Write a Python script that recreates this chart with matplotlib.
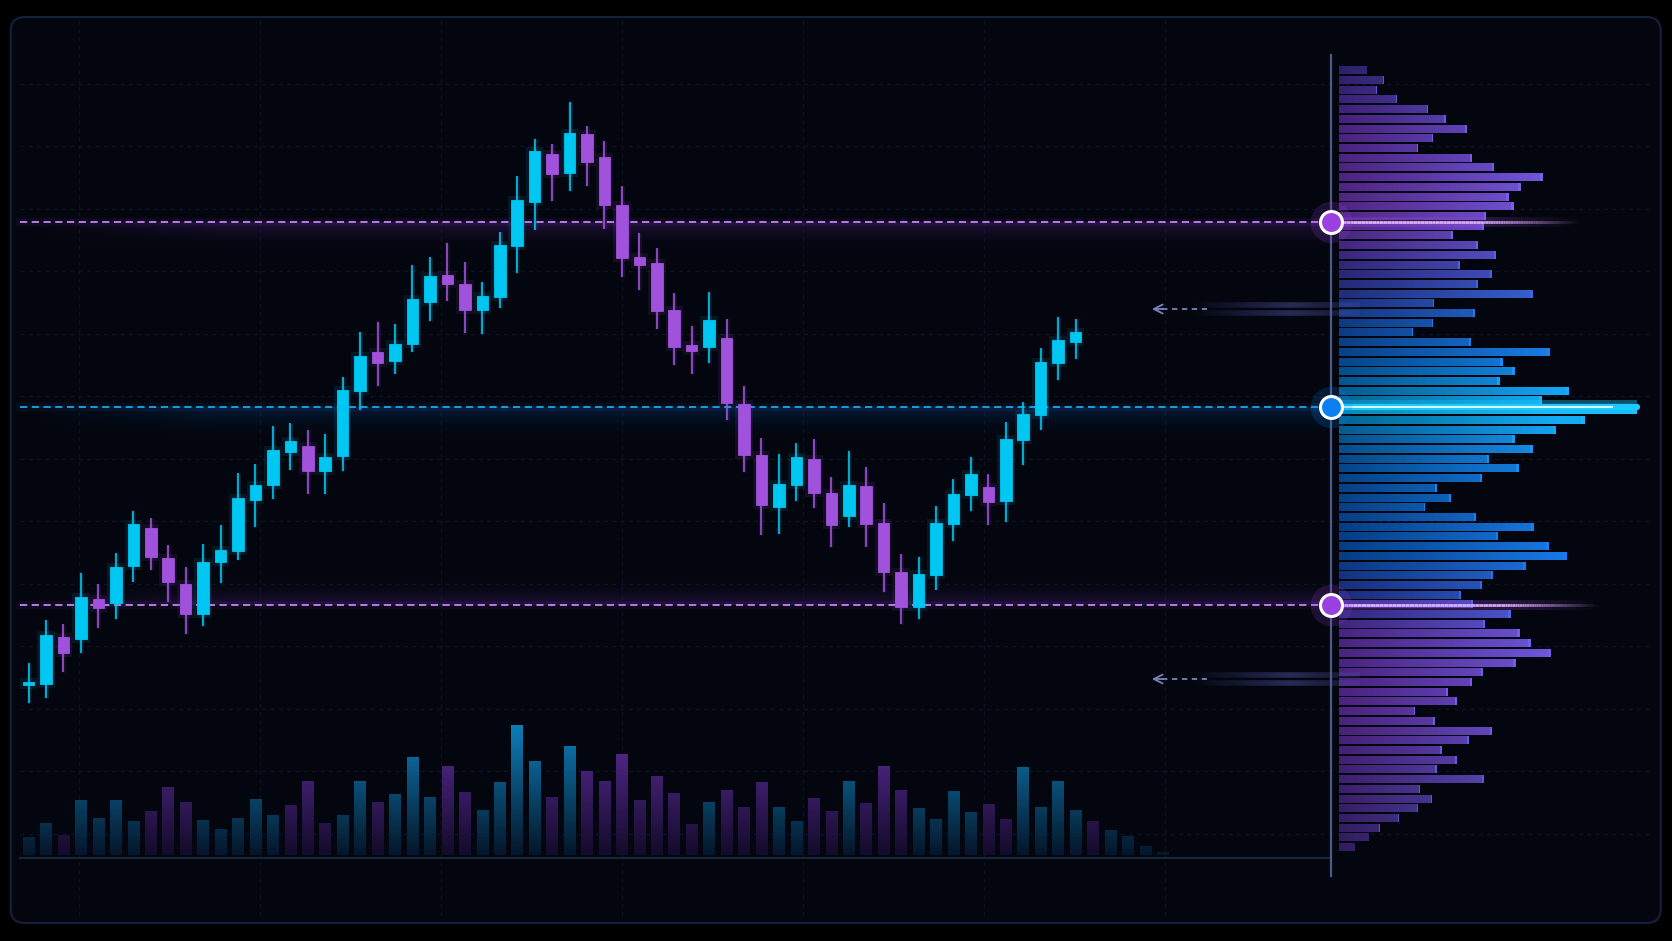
import numpy as np
import matplotlib
matplotlib.use("Agg")
import matplotlib.pyplot as plt
from matplotlib.patches import Rectangle, FancyBboxPatch
from matplotlib.collections import LineCollection
from matplotlib.colors import LinearSegmentedColormap, to_rgb
from matplotlib.transforms import blended_transform_factory

# ---- candles (price) ----
opens = [101.5, 101.6, 106.3, 106.1, 110.1, 109.7, 113.4, 117.2, 114.2, 111.6,
         108.6, 113.8, 114.9, 120.0, 121.5, 124.8, 125.4, 122.9, 124.4, 130.9,
         134.8, 133.9, 135.6, 139.8, 142.5, 141.6, 139.0, 140.3, 145.4, 149.8,
         154.6, 152.7, 156.6, 154.3, 149.5, 144.3, 143.7, 139.0, 135.5, 135.3,
         136.2, 129.6, 124.5, 119.3, 121.5, 124.1, 120.7, 118.4, 121.4, 117.7,
         112.8, 109.3, 112.5, 117.6, 120.5, 121.3, 119.9, 126.0, 128.5, 133.7, 135.8]
highs = [103.7, 108.0, 107.6, 112.7, 111.6, 114.7, 118.9, 118.2, 115.5, 113.3,
         115.6, 117.5, 122.7, 123.6, 127.4, 127.7, 127.0, 126.6, 132.3, 136.8,
         137.8, 137.6, 143.5, 144.3, 145.7, 143.8, 141.8, 146.8, 152.4, 156.1,
         155.6, 159.8, 157.4, 155.9, 151.4, 146.7, 145.2, 140.7, 137.4, 140.8,
         138.1, 131.4, 126.2, 124.6, 125.7, 126.1, 122.3, 124.9, 123.3, 119.7,
         114.6, 114.3, 119.4, 122.1, 124.3, 122.6, 127.8, 129.8, 135.2, 138.3, 138.1]
lows = [99.7, 100.2, 102.8, 104.7, 107.2, 108.1, 111.8, 113.0, 109.8, 106.6,
        107.4, 111.7, 114.0, 117.3, 120.1, 123.0, 120.6, 120.6, 122.9, 129.0,
        131.4, 132.6, 134.8, 137.9, 139.9, 136.7, 136.6, 139.2, 142.7, 147.0,
        149.9, 150.9, 151.4, 147.1, 142.3, 141.0, 137.1, 133.5, 132.6, 133.7,
        128.0, 122.8, 116.5, 116.6, 119.9, 119.2, 115.3, 117.3, 115.3, 110.8,
        107.6, 108.1, 111.0, 115.9, 118.9, 117.5, 117.8, 123.5, 127.0, 132.0, 134.1]
closes = [101.8, 106.5, 104.7, 110.3, 109.2, 113.3, 117.6, 114.3, 111.8, 108.6,
          113.8, 115.0, 120.2, 121.5, 125.0, 125.9, 122.9, 124.3, 131.0, 134.4,
          133.7, 135.6, 140.1, 142.4, 141.6, 139.0, 140.4, 145.5, 150.0, 154.9,
          152.6, 156.7, 153.8, 149.5, 144.2, 143.5, 138.9, 135.3, 134.9, 138.0,
          129.7, 124.5, 119.5, 121.6, 124.3, 120.7, 117.5, 121.5, 117.6, 112.8,
          109.3, 112.6, 117.7, 120.6, 122.6, 119.8, 126.1, 128.6, 133.8, 136.0, 136.8]

# ---- volume bars ----
volumes = [180, 320, 200, 550, 370, 550, 340, 440, 680, 530,
           350, 260, 370, 560, 400, 500, 740, 320, 400, 740,
           530, 610, 980, 580, 890, 630, 450, 730, 1300, 940,
           580, 1090, 840, 740, 1010, 550, 790, 620, 310, 530,
           650, 480, 730, 480, 340, 570, 440, 740, 520, 890,
           650, 470, 360, 640, 430, 510, 360, 880, 480, 740,
           450, 340, 250, 190, 90, 30]
vol_side = ("bbpbbbbppp" "bbbbbpppbb" "pbbbppbbbb" "pbpppppppb"
            "pppbbppbpp" "pbbbbppbbb" "bpbbbb")

# ---- volume profile ----
profile_vol = [280, 450, 380, 580, 890, 1070, 1280, 940, 790, 1330,
               1550, 2040, 1820, 1700, 1750, 1470, 1450, 1140, 1390, 1570,
               1210, 1530, 1390, 1940, 950, 1360, 940, 740, 1320, 2110,
               1640, 1760, 1610, 2300, 2030, 2980, 2460, 2170, 1760, 1940,
               1500, 1800, 1430, 980, 1120, 860, 1370, 1950, 1590, 2100,
               2280, 1870, 1540, 1430, 1220, 1340, 1720, 1460, 1810, 1920,
               2120, 1770, 1440, 1330, 1090, 1180, 760, 960, 1530, 1300,
               1030, 1180, 980, 1450, 810, 930, 790, 600, 410, 300, 160]
profile_top = 162.93
profile_step = 0.971

vah, poc, val = 147.8, 129.3, 109.5
lvn_levels = [139.1, 102.1]

# ---- layout (pixels) ----
W, H = 1672, 941
X0, DX = 28.6, 17.45          # first candle px, candle spacing px
LINE_X = 1331                 # profile separator
PROF_X0 = 1339

UP = '#00c6f2'
DN = '#a052dc'


def px2i(x):
    return (x - X0) / DX


fig = plt.figure(figsize=(W / 100, H / 100), dpi=100)
fig.patch.set_facecolor('#000000')

bg = fig.add_axes([0, 0, 1, 1])
axv = fig.add_axes([0, 0, 1, 1])
ax = fig.add_axes([0, 0, 1, 1])
axp = fig.add_axes([0, 0, 1, 1])
for a in (bg, axv, ax, axp):
    a.set_axis_off()
    a.patch.set_alpha(0)

# background panel and grid
bg.add_patch(FancyBboxPatch((10.7, 17), 1650, 906,
                            boxstyle='round,pad=0,rounding_size=14',
                            fc='#03060e', ec='#15213a', lw=1.5, zorder=0))
for gy in np.arange(83.5, 840, 62.5):
    bg.plot([20, 1650], [gy, gy], color='#0b1324', lw=1, dashes=(3, 3), zorder=1)
for gx in np.arange(79, 1200, 181):
    bg.plot([gx, gx], [20, 920], color='#0a1222', lw=1, dashes=(3, 3), zorder=1)
bg.plot([LINE_X, LINE_X], [55, 876], color='#4f5a86', lw=1.6, zorder=3)
bg.plot([20, LINE_X], [858, 858], color='#17263a', lw=1.5, zorder=2)
bg.set_xlim(0, W)
bg.set_ylim(H, 0)

# volume bars with vertical gradient
vcol = {'b': (to_rgb('#0e7cb6'), to_rgb('#05162a')),
        'p': (to_rgb('#5e2c9c'), to_rgb('#130b2a'))}
for i, (v, s) in enumerate(zip(volumes, vol_side)):
    top, bot = vcol[s]
    t = np.linspace(0, v / 1300, 48)[:, None]
    arr = np.array(bot)[None, :] + (np.array(top) - np.array(bot))[None, :] * t
    axv.imshow(arr[:, None, :], extent=(i - 0.33, i + 0.33, 0, v), origin='lower',
               aspect='auto', interpolation='nearest', zorder=2)
axv.set_xlim(-X0 / DX, (W - X0) / DX)
axv.set_ylim(-860, 8550)


# haze bands under / over the level lines
def haze(level, depth, color, amax):
    ny, nx = 40, 200
    rgb = np.array(to_rgb(color))
    d = np.linspace(0, 1, ny)[:, None]
    xf = np.linspace(0, 1, nx)[None, :]
    xfade = np.clip(xf / 0.15, 0, 1)
    if depth < 0:   # band below the line
        a = amax * d ** 2 * xfade
        ext = (px2i(20), px2i(LINE_X), level + depth, level)
    else:
        a = amax * (1 - d) ** 2 * xfade
        ext = (px2i(20), px2i(LINE_X), level, level + depth)
    img = np.zeros((ny, nx, 4))
    img[..., :3] = rgb
    img[..., 3] = a
    ax.imshow(img, extent=ext, origin='lower', aspect='auto', zorder=0.5)


haze(vah, -3.2, '#7a30c0', 0.24)
haze(poc, -3.6, '#0a5ec0', 0.24)
haze(val, 3.0, '#7a30c0', 0.22)

lvl_tr = blended_transform_factory(bg.transData, ax.transData)

# dashed level lines (left part)
for lvl, col, glow in [(vah, '#c583f2', '#8a3ad0'), (poc, '#1ea6ec', '#0a70d0'), (val, '#c583f2', '#8a3ad0')]:
    ax.plot([20, LINE_X], [lvl, lvl], color=glow, lw=6, alpha=0.08, transform=lvl_tr, zorder=1)
    ax.plot([20, LINE_X], [lvl, lvl], color=col, lw=1.3, dashes=(4, 2.5), transform=lvl_tr, zorder=1.2)

# candles
for i, (o, h, l, c) in enumerate(zip(opens, highs, lows, closes)):
    col = UP if c >= o else DN
    lo, hi = min(o, c), max(o, c)
    ax.add_patch(Rectangle((i - 0.5, lo - 0.4), 1.0, hi - lo + 0.8, fc=col, ec='none', alpha=0.10, zorder=2))
    ax.vlines(i, l, h, color=col, lw=3.5, alpha=0.12, zorder=2)
    ax.vlines(i, l, h, color=col, lw=1.2, zorder=3)
    ax.add_patch(Rectangle((i - 0.33, lo), 0.66, max(hi - lo, 0.35), fc=col, ec=col, lw=0.6, zorder=4))
ax.set_xlim(-X0 / DX, (W - X0) / DX)
ax.set_ylim(75.9, 170)

# volume profile
cmap = LinearSegmentedColormap.from_list('prof', [
    (0.0, '#4a36b0'), (6 / 80, '#7a3ad2'), (16 / 80, '#8a3edc'), (21 / 80, '#4640c4'),
    (26 / 80, '#1860d8'), (30 / 80, '#0a72e4'), (35 / 80, '#05b8f6'), (38 / 80, '#0a88ea'),
    (42 / 80, '#0a6ee0'), (50 / 80, '#0b64dc'), (54 / 80, '#2e48cc'), (58 / 80, '#7a3cd6'),
    (66 / 80, '#7e3ad0'), (1.0, '#50309c')])
n_prof = len(profile_vol)
prof_prices = profile_top - profile_step * np.arange(n_prof)
for k, (p, v) in enumerate(zip(prof_prices, profile_vol)):
    c = np.array(to_rgb(cmap(k / (n_prof - 1))))
    t = np.clip(np.linspace(0, v, 64) / 2200, 0, 1)[:, None]
    left = c * 0.6
    right = c + (np.array([0.25, 0.75, 1.0]) - c) * 0.22 * (c[2] > c[0])
    arr = left[None, :] + (right - left)[None, :] * t
    arr[-1] = np.clip(right * 1.05, 0, 1)
    axp.imshow(np.clip(arr, 0, 1)[None, :, :], extent=(0, v, p - 0.36, p + 0.36),
               aspect='auto', interpolation='nearest', zorder=2)
axp.set_xlim(-PROF_X0 * 10, (W - PROF_X0) * 10)
axp.set_ylim(75.9, 170)


def fade_line(x0, x1, y, color, lw, a0, a1, n=40, zorder=5):
    xs = np.linspace(x0, x1, n + 1)
    segs = [[(xs[k], y), (xs[k + 1], y)] for k in range(n)]
    rgba = [(*to_rgb(color), a) for a in np.linspace(a0, a1, n)]
    lc = LineCollection(segs, colors=rgba, linewidths=lw, transform=lvl_tr,
                        zorder=zorder, capstyle='butt')
    axp.add_collection(lc, autolim=False)


# bright right-hand parts of the level lines
for lvl, core, glow, xs, xe in [(vah, '#e2b4ff', '#a04ce8', 1480, 1580),
                                (val, '#e2b4ff', '#a04ce8', 1505, 1600)]:
    fade_line(LINE_X, xs, lvl, glow, 7, 0.3, 0.25)
    fade_line(xs, xe, lvl, glow, 7, 0.25, 0.0)
    fade_line(LINE_X, xs, lvl, core, 2, 1.0, 0.9, zorder=6)
    fade_line(xs, xe, lvl, core, 2, 0.9, 0.0, zorder=6)

poc_end = PROF_X0 + max(profile_vol) / 10
fade_line(LINE_X, poc_end, poc, '#1cc8ff', 10, 0.3, 0.4)
axp.plot([LINE_X, poc_end], [poc, poc], color='#1ccaff', lw=4.5, solid_capstyle='round',
         transform=lvl_tr, zorder=6)
axp.plot([LINE_X, poc_end - 25], [poc, poc], color='#e0f8ff', lw=1.4,
         transform=lvl_tr, zorder=7)

# level markers
for lvl, col in [(vah, '#9a3fe0'), (poc, '#0a80f2'), (val, '#9a3fe0')]:
    axp.scatter([LINE_X], [lvl], s=900, color=col, alpha=0.18, lw=0, transform=lvl_tr, zorder=8)
    axp.scatter([LINE_X], [lvl], s=250, color=col, edgecolors='white', linewidths=2.2,
                transform=lvl_tr, zorder=9)

# low-volume-node arrows with faint streaks
for lvl in lvn_levels:
    for dy in (-0.35, 0.45):
        fade_line(1190, 1290, lvl + dy, '#5a63c0', 4, 0.0, 0.4, zorder=4)
        fade_line(1290, 1360, lvl + dy, '#5a63c0', 4, 0.4, 0.15, zorder=4)
    axp.plot([1162, 1207], [lvl, lvl], color='#7a82b8', lw=1.3, dashes=(3, 2.5),
             transform=lvl_tr, zorder=7)
    axp.annotate('', xy=(1149, lvl), xytext=(1166, lvl), xycoords=lvl_tr, textcoords=lvl_tr,
                 arrowprops=dict(arrowstyle='->', color='#7a82b8', lw=1.3, mutation_scale=16),
                 zorder=7)

fig.savefig('out.png', dpi=100, facecolor=fig.get_facecolor())
